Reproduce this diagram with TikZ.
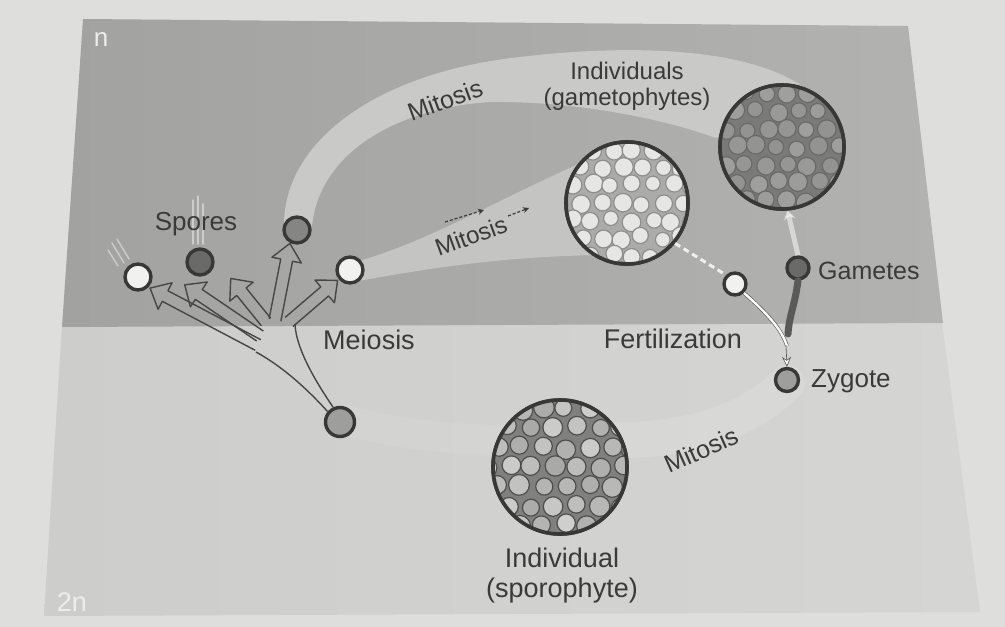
\documentclass[tikz,border=0pt]{standalone}
\usepackage{fontspec}
\setmainfont{Liberation Sans}
\usetikzlibrary{arrows.meta,calc}

% greys of the page and the two ploidy zones
\definecolor{paper}{HTML}{DEDEDC}
\definecolor{hapL}{HTML}{A2A2A0}
\definecolor{hapR}{HTML}{B2B2B0}
\definecolor{dipL}{HTML}{CDCDCB}
\definecolor{dipR}{HTML}{D5D5D3}
\definecolor{band}{HTML}{C9C9C7}
\definecolor{wedge}{HTML}{C4C4C2}
\definecolor{ink}{HTML}{3A3A38}
\definecolor{rim}{HTML}{383836}
\definecolor{fanedge}{HTML}{474745}
\definecolor{light}{HTML}{F1F1EF}
\definecolor{darkcell}{HTML}{6A6A68}
\definecolor{midcell}{HTML}{858583}
\definecolor{dipcell}{HTML}{9E9E9C}
\definecolor{fusion}{HTML}{5A5A58}
\definecolor{fusedge}{HTML}{555553}
\definecolor{nlabel}{HTML}{EDEDEB}
% cell colours of the three individuals
\definecolor{gapL}{HTML}{ABABA9}
\definecolor{fillL}{HTML}{E6E6E4}
\definecolor{edgeL}{HTML}{8E8E8C}
\definecolor{gapD}{HTML}{7A7A78}
\definecolor{fillD}{HTML}{939391}
\definecolor{edgeD}{HTML}{6A6A68}
\definecolor{gapS}{HTML}{808080}
\definecolor{fillS}{HTML}{A9A9A7}
\definecolor{edgeS}{HTML}{4E4E4C}

% packed cells inside a round individual:
% #1 centre, #2 radius, #3 gap colour, #4 cell colour, #5 cell edge, #6 max lightening, #7 spacing
\newcommand{\packcells}[7]{%
  \begin{scope}
    \clip (#1) circle (#2pt);
    \fill[#3] (#1) circle (#2pt);
    \foreach \ci in {0,...,8}{
      \foreach \cj in {0,...,8}{
        \pgfmathsetmacro\cellx{(\cj-4)*#7 + mod(\ci,2)*#7/2 - #7/4 + 2.4*rand}
        \pgfmathsetmacro\celly{(\ci-4)*0.866*#7 + 2.4*rand}
        \pgfmathsetmacro\cellr{0.42*#7 + 1.1*rand}
        \pgfmathtruncatemacro\celll{max(0,#6*rnd)}
        \draw[draw=#5, line width=1.2pt, fill=white!\celll!#4]
          ($(#1)+(\cellx,\celly)$) circle (\cellr pt);
      }}
  \end{scope}}

\tikzset{
  lbl/.style={text=ink, inner sep=0pt, font=\fontsize{25}{27}\selectfont},
  cell/.style={circle, draw=rim, line width=3.4pt, inner sep=0pt, minimum size=26pt},
  bigcell/.style={circle, draw=rim, line width=3.6pt, inner sep=0pt},
  fanline/.style={draw=fanedge, line width=1.4pt, line join=round},
  streak/.style={draw=white, opacity=0.45, line width=1.4pt, line cap=round},
  pics/hollowarrow/.style={code={
    \draw[fanline] (0,-6) -- (#1-17,-6) -- (#1-17,-15) -- (#1,0)
                   -- (#1-17,15) -- (#1-17,6) -- (0,6);
  }}
}

\begin{document}
\begin{tikzpicture}[x=1pt,y=-1pt]
\useasboundingbox (0,0) rectangle (1005,627);
\fill[paper] (0,0) rectangle (1005,627);

% the diploid (lower) and haploid (upper) zones of the panel
\shade[left color=dipL, right color=dipR] (62,325) -- (942,322) -- (980,612) -- (44,616) -- cycle;
\shade[left color=hapL, right color=hapR] (83,19) -- (908,26) -- (943,323) -- (62,327) -- cycle;

% soft light sweep of the lower loop
\draw[line width=36pt, draw=white, opacity=0.12, line cap=round]
  (787,383) .. controls (740,430) and (670,440) .. (620,440);
\draw[line width=30pt, draw=white, opacity=0.08, line cap=round]
  (505,440) .. controls (440,440) and (380,430) .. (345,420);

% light bands carrying spores up to the gametophytes
\fill[band] (284,228) .. controls (282,140) and (380,72) .. (520,57)
  .. controls (620,45) and (745,45) .. (805,88) -- (716,138)
  .. controls (650,114) and (560,101) .. (490,102)
  .. controls (400,108) and (320,150) .. (312,226) -- cycle;
\fill[wedge] (355,262) .. controls (430,242) and (510,192) .. (600,155)
  -- (605,255) .. controls (500,256) and (420,270) .. (358,281) -- cycle;

% gametophyte and sporophyte individuals
\node[bigcell, minimum size=122pt] (gamL) at (627,203) {};
\node[bigcell, minimum size=124pt] (gamD) at (782,147) {};
\node[bigcell, minimum size=134pt] (spor) at (560,467) {};
\pgfmathsetseed{11}
\packcells{gamL}{62}{gapL}{fillL}{edgeL}{0}{20}
\packcells{gamD}{63}{gapD}{fillD}{edgeD}{12}{20.5}
\packcells{spor}{68}{gapS}{fillS}{edgeS}{45}{22.5}
\node[bigcell, minimum size=122pt] at (gamL) {};
\node[bigcell, minimum size=124pt] at (gamD) {};
\node[bigcell, minimum size=134pt] at (spor) {};

% spores, gametes and zygote
\node[cell, fill=light] (spA) at (138,277) {};
\node[cell, fill=darkcell] (spB) at (200,262) {};
\node[cell, fill=midcell] (spC) at (297,230) {};
\node[cell, fill=light] (spD) at (350,270) {};
\node[cell, fill=dipcell, minimum size=29pt] (mei) at (340,422) {};
\node[cell, fill=light, minimum size=22pt] (gw) at (735,284) {};
\node[cell, fill=darkcell, minimum size=22pt] (gd) at (798,268) {};
\node[cell, fill=dipcell, minimum size=23pt] (zyg) at (787,380) {};

% faint motion streaks behind the dispersing spores
\draw[streak] (112,243) -- (124,263);
\draw[streak] (117,239) -- (129,259);
\draw[streak] (108,250) -- (118,266);
\draw[streak] (193,200) -- (193,244);
\draw[streak] (198,196) -- (198,244);
\draw[streak] (203,204) -- (203,244);

% meiosis: two strands from the spore mother cell branching into hollow arrows
\draw[fanline] (mei.140) .. controls (310,392) and (285,368) .. (256,352);
\draw[fanline] (mei.115) .. controls (318,385) and (296,350) .. (295,324);
\pic[rotate=152.2] at (258,345) {hollowarrow=122};
\pic[rotate=145.8] at (260,336) {hollowarrow=91};
\pic[rotate=129] at (266,322) {hollowarrow=56};
\pic[rotate=79] at (275,320) {hollowarrow=78};
\pic[rotate=40.6] at (289,322) {hollowarrow=64};

% gametes leaving the gametophytes
\draw[draw=white, line width=3pt, opacity=0.8, dash pattern=on 6pt off 4pt]
  (gamL.-40) -- (gw.north west);
\draw[draw=white, line width=5pt, opacity=0.5, -{Stealth[length=9pt,width=12pt]}]
  (gd.north) -- (gamD.-85);

% fertilization
\draw[draw=fusion, line width=7pt, line cap=round]
  (gd.south) .. controls (795,305) and (789,316) .. (788,334);
\draw[draw=fusedge, double=white, double distance=2.4pt, line width=0.6pt]
  (gw.south east) .. controls (768,314) and (782,330) .. (787,346);
\draw[draw=fusedge, line width=0.6pt, -{Stealth[fill=white,length=10pt,width=9pt]}]
  (786,345) -- (zyg.north);

% labels
\node[lbl, text=nlabel, font=\fontsize{26}{28}\selectfont] (nlab) at (101,40) {n};
\node[lbl, text=nlabel, font=\fontsize{27}{29}\selectfont] (dlab) at (72,602) {2n};
\node[lbl, font=\fontsize{26}{28}\selectfont] (spl) at (196,224) {Spores};
\node[lbl, font=\fontsize{27}{29}\selectfont] (meil) at (369,340) {Meiosis};
\node[lbl, font=\fontsize{27}{29}\selectfont] (fertl) at (673,339) {Fertilization};
\node[lbl, anchor=west, font=\fontsize{26}{28}\selectfont] (zygl) at (811,381) {Zygote};
\node[lbl, anchor=west] (gaml) at (818,271) {Gametes};
\node[lbl, align=center, font=\fontsize{24}{26}\selectfont] (gamtl) at (627,86) {Individuals\\(gametophytes)};
\node[lbl, align=center, font=\fontsize{27}{30}\selectfont] (sporl) at (562,576) {Individual\\(sporophyte)};
\node[lbl, rotate=20] (mit1) at (445,100) {Mitosis};
\node[lbl, rotate=20, font=\fontsize{24}{26}\selectfont] (mit2) at (471,236) {Mitosis};
\node[lbl, rotate=24] (mit3) at (701,450) {Mitosis};

% small dashed arrows drawn along the middle mitosis label
\draw[draw=ink, line width=1.2pt, dash pattern=on 3pt off 2pt, -{Stealth[length=6pt,width=6pt]}]
  (445,222) -- (484,210);
\draw[draw=ink, line width=1.2pt, dash pattern=on 3pt off 2pt, -{Stealth[length=6pt,width=6pt]}]
  (508,216) -- (529,208);
\end{tikzpicture}
\end{document}
